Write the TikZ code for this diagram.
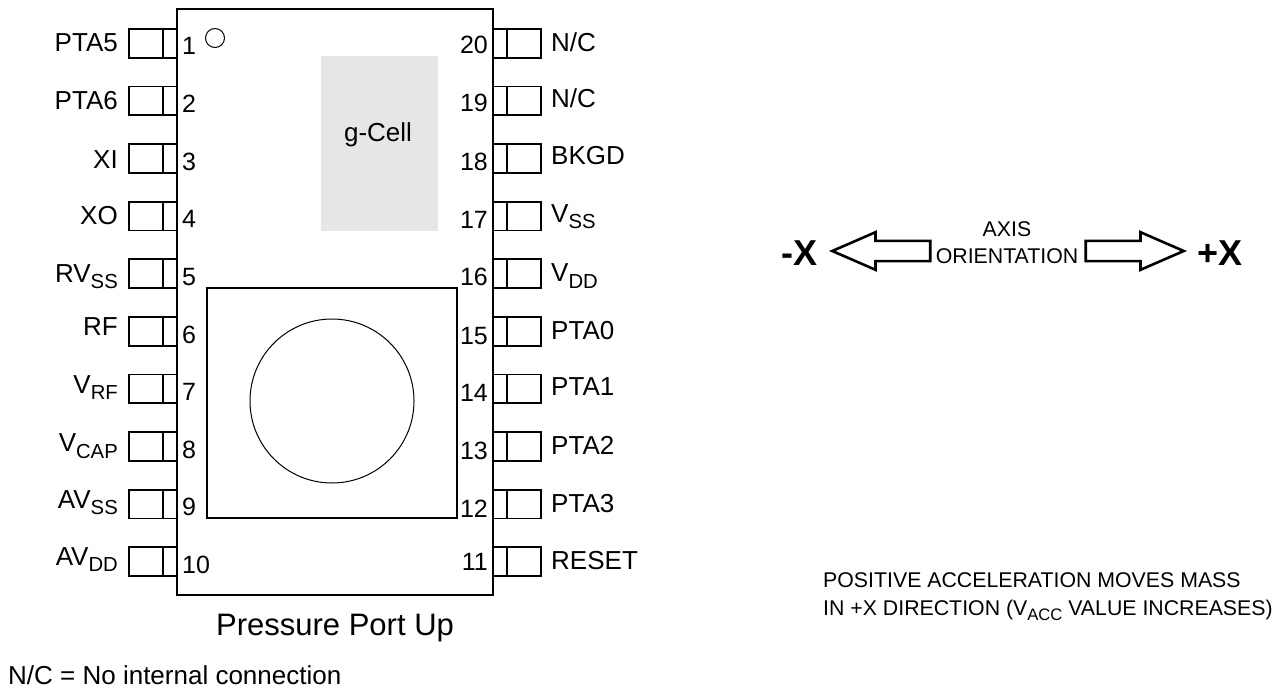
\documentclass[tikz,border=0pt]{standalone}
\usepackage{fontspec}
\setmainfont{Liberation Sans}
\usetikzlibrary{positioning,shapes.arrows}
\newcommand{\pinsub}[1]{\raisebox{-.25em}{\scalebox{.78}{#1}}}
\definecolor{cellgray}{HTML}{E6E6E6}

\begin{document}
\begin{tikzpicture}[x=1pt,y=-1pt]
        \tikzset{pad/.style = {shape=rectangle,draw,line width=1.8pt,inner sep=0pt,outer sep=0pt,minimum height=28.7pt,minimum width=34pt}}
        \tikzset{lead/.style = {pad,minimum width=14pt}}
        \tikzset{pinname/.style = {inner sep=0pt,font=\fontsize{26}{28}\selectfont}}
        \tikzset{pinnum/.style = {inner sep=0pt,font=\fontsize{25}{27}\selectfont}}
        \tikzset{smalltext/.style = {inner sep=0pt,font=\fontsize{21.3}{23}\selectfont}}
        \tikzset{hollowarrow/.style = {shape=single arrow,draw,line width=2.6pt,inner sep=0pt,text height=17.6pt,text depth=0pt,text width=0pt,minimum height=98pt,single arrow head extend=8.7pt,single arrow tip angle=47,single arrow head indent=0pt}}
        \useasboundingbox (0,0) rectangle (1281,690);
        % package
        \node[draw,line width=2.2pt,inner sep=0pt,minimum width=316pt,minimum height=586pt] (chip) at (335,302) {};
        \node[fill=cellgray,inner sep=0pt,minimum width=117pt,minimum height=175pt] (gcell) at (379.5,143.5) {};
        \node[pinname] (gcelltext) at (378,135) {g-Cell};
        \node[draw,line width=1.6pt,inner sep=0pt,minimum width=250pt,minimum height=230pt] (port) at (332,403) {};
        \node[draw,circle,line width=1pt,inner sep=0pt,minimum size=164pt] (portcircle) at (332,401) {};
        \node[draw,circle,line width=1pt,inner sep=0pt,minimum size=19pt] (dot) at (215,38) {};
        % left pins
        \foreach \i/\ylabel/\name in {1/52/PTA5,2/109.5/PTA6,3/168/XI,4/224/XO,5/282/{RV\pinsub{SS}},6/335/RF,7/393/{V\pinsub{RF}},8/451.5/{V\pinsub{CAP}},9/508/{AV\pinsub{SS}},10/565/{AV\pinsub{DD}}} {
                \pgfmathsetmacro{\ypin}{43.3+57.6*(\i-1)}
                \pgfmathsetmacro{\ynum}{55+57.6*(\i-1)}
                \node[lead] (L\i) at (170,\ypin) {};
                \node[pad,left=0pt of L\i] (Lpad\i) {};
                \node[pinname,anchor=base east] (Lname\i) at (118,\ylabel) {\name};
                \node[pinnum,anchor=base west] (Lnum\i) at (182,\ynum) {\i};
        }
        % right pins
        \foreach \i/\num/\ylabel/\ynum/\name in {1/20/52/54/N\slash C,2/19/108/112/N\slash C,3/18/164.5/170/BKGD,4/17/222/228/{V\pinsub{SS}},5/16/281.5/285.5/{V\pinsub{DD}},6/15/339/344/PTA0,7/14/395.5/401.5/PTA1,8/13/454/459/PTA2,9/12/512/517/PTA3,10/11/569.5/570.5/RESET} {
                \pgfmathsetmacro{\ypin}{43.3+57.6*(\i-1)}
                \node[lead] (R\i) at (500,\ypin) {};
                \node[pad,right=0pt of R\i] (Rpad\i) {};
                \node[pinname,anchor=base west] (Rname\i) at (551,\ylabel) {\name};
                \node[pinnum,anchor=base east] (Rnum\i) at (488,\ynum) {\num};
        }
        % axis
        \node[hollowarrow,shape border rotate=180,anchor=tip] (minusarrow) at (829,251) {};
        \node[hollowarrow,anchor=tip] (plusarrow) at (1187,251) {};
        \node[smalltext,anchor=base] (axis) at (1007,236) {AXIS};
        \node[smalltext,anchor=base] (orient) at (1007,263) {ORIENTATION};
        \node[inner sep=0pt,anchor=base east,font=\fontsize{36}{38}\bfseries] (minusx) at (818,265) {-X};
        \node[inner sep=0pt,anchor=base west,font=\fontsize{36}{38}\bfseries] (plusx) at (1197,265) {+X};
        % notes
        \node[inner sep=0pt,anchor=base west,font=\fontsize{31}{33}\selectfont] (caption) at (216,635) {Pressure Port Up};
        \node[inner sep=0pt,anchor=base west,font=\fontsize{26}{28}\selectfont] (nc) at (8,684) {N/C = No internal connection};
        \node[smalltext,anchor=base west] (accel1) at (823,587) {POSITIVE ACCELERATION MOVES MASS};
        \node[smalltext,anchor=base west] (accel2) at (823,615) {IN +X DIRECTION (V\pinsub{ACC} VALUE INCREASES)};
\end{tikzpicture}
\end{document}
